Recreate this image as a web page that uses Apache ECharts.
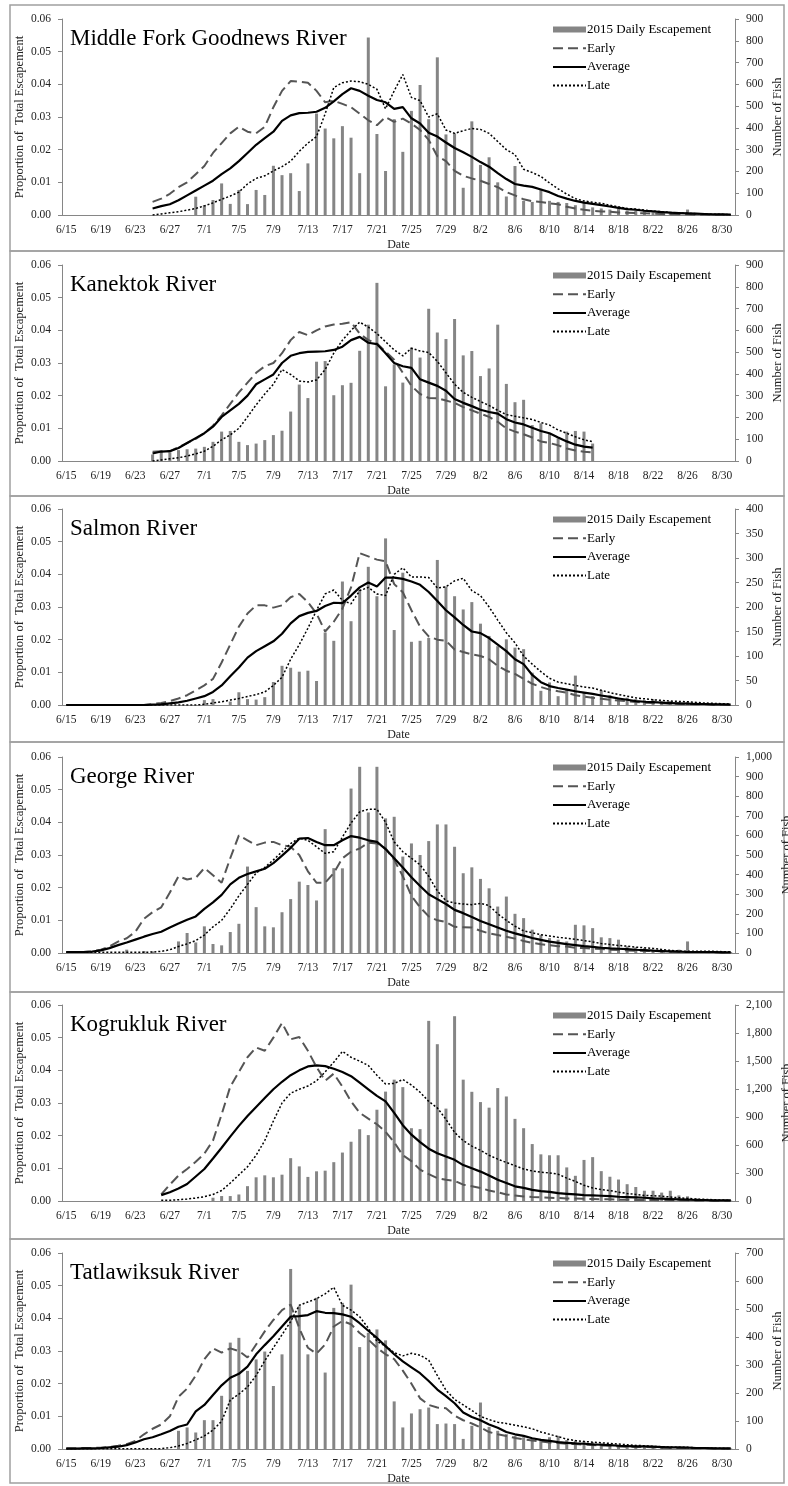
<!DOCTYPE html>
<html>
<head>
<meta charset="utf-8">
<script src="https://cdn.jsdelivr.net/npm/echarts@6/dist/echarts.min.js"></script>
<style>
  html, body { margin: 0; padding: 0; background: #fff; }
  #chart { width: 788px; height: 1486px; }
</style>
</head>
<body>
<div id="chart"></div>
<script>
// day categories 6/15 .. 8/31
const dates = [];
for (let d = 15; d <= 30; d++) dates.push("6/" + d);
for (let d = 1; d <= 31; d++) dates.push("7/" + d);
for (let d = 1; d <= 31; d++) dates.push("8/" + d);

// ---- Middle Fork Goodnews (lines from 6/25, bars from 6/15) ----
const goodnewsEarly = [
  0.0040,0.0050,0.0065,0.0085,0.0100,0.0125,0.0150,0.0190,0.0220,0.0250,
  0.0270,0.0255,0.0250,0.0270,0.0330,0.0380,0.0410,0.0408,0.0405,0.0380,
  0.0345,0.0350,0.0340,0.0330,0.0310,0.0290,0.0275,0.0300,0.0285,0.0295,
  0.0280,0.0260,0.0230,0.0180,0.0165,0.0135,0.0120,0.0112,0.0105,0.0095,
  0.0085,0.0070,0.0060,0.0048,0.0042,0.0040,0.0036,0.0033,0.0025,0.0020,
  0.0016,0.0013,0.0011,0.0010,0.0008,0.0007,0.0006,0.0005,0.0004,0.0003,
  0.0002,0.0002,0.0002,0.0001,0.0001,0.0001,0.0001,0.0001];
const goodnewsAvg = [
  0.0020,0.0027,0.0033,0.0045,0.0060,0.0075,0.0090,0.0105,0.0125,0.0143,
  0.0165,0.0190,0.0215,0.0235,0.0255,0.0288,0.0305,0.0312,0.0313,0.0316,
  0.0328,0.0348,0.0370,0.0388,0.0380,0.0365,0.0352,0.0345,0.0325,0.0330,
  0.0296,0.0280,0.0252,0.0240,0.0222,0.0205,0.0192,0.0178,0.0162,0.0148,
  0.0128,0.0110,0.0095,0.0090,0.0086,0.0078,0.0070,0.0058,0.0050,0.0043,
  0.0038,0.0034,0.0030,0.0026,0.0022,0.0018,0.0016,0.0013,0.0011,0.0009,
  0.0007,0.0006,0.0005,0.0004,0.0003,0.0002,0.0002,0.0001];
const goodnewsLate = [
  0.0000,0.0003,0.0007,0.0010,0.0015,0.0020,0.0028,0.0037,0.0048,0.0058,
  0.0070,0.0095,0.0112,0.0120,0.0135,0.0148,0.0165,0.0195,0.0220,0.0240,
  0.0310,0.0390,0.0405,0.0410,0.0408,0.0400,0.0385,0.0325,0.0380,0.0430,
  0.0360,0.0350,0.0300,0.0310,0.0260,0.0250,0.0258,0.0265,0.0262,0.0250,
  0.0225,0.0200,0.0185,0.0140,0.0130,0.0118,0.0098,0.0080,0.0064,0.0050,
  0.0043,0.0039,0.0036,0.0030,0.0025,0.0020,0.0018,0.0015,0.0012,0.0010,
  0.0008,0.0006,0.0005,0.0004,0.0003,0.0002,0.0002,0.0001];
const goodnewsFish = [
  0,0,0,0,0,0,0,0,0,0,
  0,0,0,0,0,84,45,69,145,51,
  115,50,115,92,226,183,192,110,237,466,
  397,352,408,355,192,815,372,202,440,290,
  478,597,440,724,370,375,125,430,230,265,
  150,85,225,65,60,120,65,60,55,45,
  55,35,30,25,30,20,20,18,12,8,
  10,8,25,8,5,3,2,0];

// ---- Kanektok (everything 6/25 .. 8/15) ----
const kanektokEarly = [
  0.0028,0.0030,0.0030,0.0042,0.0055,0.0068,0.0085,0.0108,0.0140,0.0175,
  0.0210,0.0240,0.0270,0.0290,0.0300,0.0330,0.0370,0.0395,0.0385,0.0400,
  0.0412,0.0418,0.0420,0.0425,0.0390,0.0370,0.0360,0.0335,0.0310,0.0270,
  0.0230,0.0205,0.0193,0.0192,0.0185,0.0178,0.0165,0.0155,0.0145,0.0135,
  0.0120,0.0100,0.0090,0.0082,0.0072,0.0060,0.0055,0.0048,0.0038,0.0032,
  0.0028,0.0026];
const kanektokAvg = [
  0.0023,0.0029,0.0030,0.0040,0.0055,0.0070,0.0085,0.0105,0.0135,0.0155,
  0.0175,0.0200,0.0235,0.0250,0.0265,0.0300,0.0322,0.0330,0.0334,0.0335,
  0.0336,0.0340,0.0350,0.0370,0.0380,0.0362,0.0358,0.0330,0.0300,0.0290,
  0.0285,0.0250,0.0240,0.0230,0.0215,0.0190,0.0178,0.0168,0.0157,0.0150,
  0.0145,0.0128,0.0118,0.0112,0.0102,0.0092,0.0085,0.0072,0.0060,0.0050,
  0.0044,0.0041];
const kanektokLate = [
  0.0000,0.0003,0.0007,0.0010,0.0015,0.0022,0.0030,0.0045,0.0065,0.0080,
  0.0100,0.0135,0.0172,0.0205,0.0235,0.0280,0.0265,0.0245,0.0242,0.0248,
  0.0280,0.0330,0.0370,0.0400,0.0425,0.0410,0.0390,0.0365,0.0340,0.0322,
  0.0345,0.0337,0.0332,0.0305,0.0270,0.0235,0.0210,0.0195,0.0182,0.0170,
  0.0155,0.0142,0.0137,0.0132,0.0127,0.0118,0.0110,0.0095,0.0085,0.0074,
  0.0065,0.0059];
const kanektokFish = [
  30,42,40,50,54,57,65,88,135,138,
  88,73,80,96,119,139,227,351,289,456,
  459,302,348,359,506,626,818,343,444,360,
  521,475,699,590,560,652,485,505,390,425,
  626,354,270,281,165,173,127,104,135,138,
  135,80];

// ---- Salmon (from 6/15) ----
const salmonEarly = [
  0,0,0,0,0,0,0,0,0,0,
  0.0003,0.0006,0.0012,0.0020,0.0030,0.0045,0.0060,0.0080,0.0130,0.0185,
  0.0240,0.0280,0.0305,0.0305,0.0298,0.0305,0.0330,0.0340,0.0315,0.0280,
  0.0225,0.0255,0.0295,0.0360,0.0465,0.0455,0.0445,0.0440,0.0370,0.0345,
  0.0290,0.0240,0.0210,0.0200,0.0197,0.0170,0.0162,0.0155,0.0150,0.0140,
  0.0120,0.0105,0.0095,0.0080,0.0065,0.0055,0.0047,0.0042,0.0038,0.0030,
  0.0026,0.0022,0.0019,0.0016,0.0014,0.0012,0.0009,0.0007,0.0006,0.0005,
  0.0004,0.0003,0.0003,0.0002,0.0002,0.0001,0.0001,0.0001];
const salmonAvg = [
  0,0,0,0,0,0,0,0,0,0,
  0.0001,0.0002,0.0005,0.0008,0.0013,0.0020,0.0027,0.0040,0.0060,0.0088,
  0.0115,0.0145,0.0165,0.0180,0.0195,0.0218,0.0250,0.0272,0.0282,0.0288,
  0.0303,0.0313,0.0312,0.0335,0.0360,0.0375,0.0363,0.0390,0.0390,0.0386,
  0.0378,0.0368,0.0346,0.0318,0.0290,0.0268,0.0245,0.0225,0.0220,0.0205,
  0.0185,0.0165,0.0140,0.0125,0.0092,0.0070,0.0058,0.0052,0.0047,0.0042,
  0.0038,0.0034,0.0029,0.0025,0.0020,0.0016,0.0012,0.0010,0.0009,0.0007,
  0.0006,0.0005,0.0004,0.0003,0.0003,0.0002,0.0002,0.0001];
const salmonLate = [
  0,0,0,0,0,0,0,0,0,0,
  0,0,0,0,0,0,0.0002,0.0006,0.0010,0.0015,
  0.0020,0.0026,0.0032,0.0040,0.0060,0.0085,0.0140,0.0185,0.0235,0.0290,
  0.0340,0.0352,0.0320,0.0310,0.0350,0.0360,0.0340,0.0335,0.0400,0.0420,
  0.0392,0.0392,0.0390,0.0358,0.0362,0.0380,0.0388,0.0350,0.0335,0.0300,
  0.0260,0.0221,0.0190,0.0150,0.0125,0.0102,0.0082,0.0070,0.0065,0.0060,
  0.0055,0.0052,0.0045,0.0038,0.0032,0.0027,0.0022,0.0019,0.0016,0.0014,
  0.0012,0.0011,0.0010,0.0008,0.0006,0.0005,0.0004,0.0003];
const salmonFish = [
  0,0,0,0,0,0,0,0,0,0,
  0,0,0,0,0,0,10,12,0,7,
  26,12,11,16,47,80,76,68,70,49,
  148,131,252,171,236,282,222,340,153,270,
  129,131,137,296,242,222,195,210,166,141,
  120,134,117,114,66,29,46,18,32,60,
  25,18,30,20,15,15,12,10,12,8,
  8,6,6,5,4,3,2,0];

// ---- George (from 6/15) ----
const georgeEarly = [
  0.0003,0.0003,0.0003,0.0005,0.0010,0.0020,0.0035,0.0045,0.0065,0.0105,
  0.0125,0.0140,0.0185,0.0235,0.0225,0.0230,0.0260,0.0238,0.0215,0.0290,
  0.0360,0.0345,0.0330,0.0338,0.0340,0.0330,0.0325,0.0300,0.0250,0.0215,
  0.0215,0.0245,0.0290,0.0310,0.0320,0.0338,0.0335,0.0320,0.0285,0.0235,
  0.0175,0.0140,0.0112,0.0100,0.0095,0.0080,0.0079,0.0078,0.0068,0.0060,
  0.0055,0.0050,0.0044,0.0037,0.0031,0.0027,0.0024,0.0021,0.0020,0.0016,
  0.0015,0.0013,0.0012,0.0010,0.0009,0.0008,0.0007,0.0006,0.0006,0.0005,
  0.0004,0.0004,0.0003,0.0003,0.0003,0.0002,0.0002,0.0002];
const georgeAvg = [
  0.0003,0.0003,0.0003,0.0004,0.0008,0.0015,0.0024,0.0032,0.0041,0.0050,
  0.0058,0.0065,0.0078,0.0090,0.0102,0.0112,0.0135,0.0155,0.0178,0.0210,
  0.0230,0.0242,0.0250,0.0258,0.0275,0.0298,0.0322,0.0350,0.0352,0.0340,
  0.0330,0.0330,0.0345,0.0358,0.0353,0.0345,0.0340,0.0318,0.0290,0.0262,
  0.0232,0.0205,0.0180,0.0165,0.0150,0.0132,0.0122,0.0110,0.0098,0.0088,
  0.0078,0.0068,0.0060,0.0053,0.0046,0.0040,0.0035,0.0031,0.0027,0.0024,
  0.0021,0.0019,0.0016,0.0014,0.0013,0.0012,0.0010,0.0009,0.0007,0.0006,
  0.0005,0.0004,0.0003,0.0003,0.0003,0.0003,0.0002,0.0002];
const georgeLate = [
  0.0002,0.0002,0.0002,0.0002,0.0002,0.0002,0.0002,0.0002,0.0002,0.0002,
  0.0003,0.0005,0.0010,0.0020,0.0028,0.0038,0.0055,0.0080,0.0100,0.0135,
  0.0175,0.0210,0.0245,0.0262,0.0285,0.0310,0.0335,0.0352,0.0345,0.0325,
  0.0305,0.0310,0.0355,0.0398,0.0432,0.0440,0.0440,0.0400,0.0340,0.0310,
  0.0290,0.0270,0.0235,0.0190,0.0160,0.0153,0.0150,0.0148,0.0152,0.0145,
  0.0120,0.0100,0.0082,0.0068,0.0062,0.0056,0.0052,0.0048,0.0045,0.0042,
  0.0038,0.0034,0.0029,0.0026,0.0023,0.0021,0.0018,0.0016,0.0014,0.0011,
  0.0008,0.0006,0.0005,0.0005,0.0005,0.0005,0.0004,0.0004];
const georgeFish = [
  0,0,0,0,0,0,0,17,0,10,
  8,0,0,59,102,54,136,46,39,107,
  149,441,234,136,131,208,275,364,347,268,
  632,433,432,839,950,717,950,687,695,492,
  559,500,571,656,656,542,407,437,378,330,
  237,288,200,178,119,93,76,68,59,144,
  141,127,80,76,68,34,29,25,17,12,
  12,17,59,8,5,8,8,5];

// ---- Kogrukluk (lines from 6/26, bars from 6/15) ----
const kogruklukEarly = [
  0.0020,0.0050,0.0078,0.0098,0.0120,0.0145,0.0185,0.0265,0.0350,
  0.0395,0.0440,0.0470,0.0460,0.0500,0.0545,0.0495,0.0502,0.0460,0.0410,
  0.0368,0.0390,0.0350,0.0305,0.0270,0.0252,0.0235,0.0212,0.0180,0.0140,
  0.0122,0.0096,0.0082,0.0070,0.0065,0.0062,0.0050,0.0045,0.0040,0.0032,
  0.0027,0.0020,0.0017,0.0014,0.0012,0.0011,0.0010,0.0009,0.0008,0.0008,
  0.0007,0.0006,0.0005,0.0005,0.0004,0.0004,0.0003,0.0003,0.0003,0.0002,
  0.0002,0.0002,0.0002,0.0001,0.0001,0.0001,0.0001,0.0001];
const kogruklukAvg = [
  0.0018,0.0027,0.0038,0.0052,0.0075,0.0098,0.0130,0.0163,0.0197,
  0.0230,0.0260,0.0288,0.0315,0.0342,0.0365,0.0385,0.0400,0.0412,0.0415,
  0.0413,0.0405,0.0395,0.0382,0.0362,0.0342,0.0322,0.0305,0.0270,0.0232,
  0.0203,0.0180,0.0160,0.0146,0.0136,0.0126,0.0110,0.0100,0.0090,0.0078,
  0.0065,0.0055,0.0045,0.0040,0.0034,0.0030,0.0028,0.0024,0.0022,0.0020,
  0.0018,0.0017,0.0016,0.0015,0.0013,0.0012,0.0011,0.0010,0.0008,0.0007,
  0.0006,0.0005,0.0004,0.0003,0.0003,0.0002,0.0002,0.0002];
const kogruklukLate = [
  0.0002,0.0002,0.0004,0.0006,0.0009,0.0013,0.0020,0.0032,0.0055,
  0.0080,0.0105,0.0140,0.0185,0.0245,0.0300,0.0330,0.0342,0.0352,0.0368,
  0.0395,0.0425,0.0458,0.0440,0.0428,0.0415,0.0385,0.0358,0.0360,0.0372,
  0.0355,0.0333,0.0305,0.0285,0.0250,0.0210,0.0185,0.0168,0.0155,0.0140,
  0.0128,0.0118,0.0108,0.0098,0.0092,0.0088,0.0086,0.0082,0.0070,0.0060,
  0.0048,0.0040,0.0035,0.0032,0.0027,0.0023,0.0020,0.0017,0.0016,0.0015,
  0.0012,0.0010,0.0008,0.0006,0.0005,0.0004,0.0003,0.0002];
const kogruklukFish = [
  0,0,0,0,0,0,0,0,0,0,
  0,0,0,0,0,0,0,35,53,53,
  70,159,254,275,254,282,459,371,258,318,
  325,416,519,635,769,706,978,1172,1300,1220,
  780,770,1930,1680,990,1980,1300,1170,1060,1000,
  1210,1120,880,780,610,500,490,490,360,270,
  440,470,320,260,230,180,150,110,110,90,
  110,60,50,30,20,15,10,5];

// ---- Tatlawiksuk (from 6/15) ----
const tatlaEarly = [
  0.0002,0.0002,0.0003,0.0003,0.0004,0.0006,0.0010,0.0015,0.0025,0.0045,
  0.0062,0.0075,0.0100,0.0160,0.0185,0.0225,0.0275,0.0308,0.0295,0.0308,
  0.0300,0.0280,0.0320,0.0360,0.0395,0.0425,0.0442,0.0370,0.0310,0.0292,
  0.0320,0.0375,0.0392,0.0382,0.0355,0.0335,0.0310,0.0290,0.0275,0.0240,
  0.0200,0.0155,0.0135,0.0127,0.0125,0.0102,0.0088,0.0078,0.0066,0.0052,
  0.0045,0.0040,0.0034,0.0030,0.0026,0.0023,0.0020,0.0018,0.0016,0.0015,
  0.0013,0.0012,0.0011,0.0010,0.0008,0.0007,0.0006,0.0006,0.0005,0.0004,
  0.0004,0.0003,0.0003,0.0002,0.0002,0.0002,0.0001,0.0001];
const tatlaAvg = [
  0.0001,0.0001,0.0002,0.0002,0.0003,0.0005,0.0007,0.0012,0.0020,0.0030,
  0.0036,0.0045,0.0055,0.0068,0.0075,0.0115,0.0135,0.0165,0.0195,0.0218,
  0.0230,0.0252,0.0290,0.0318,0.0345,0.0375,0.0405,0.0407,0.0410,0.0422,
  0.0417,0.0416,0.0412,0.0405,0.0385,0.0362,0.0340,0.0315,0.0290,0.0268,
  0.0250,0.0232,0.0208,0.0182,0.0162,0.0140,0.0112,0.0098,0.0088,0.0075,
  0.0065,0.0052,0.0045,0.0040,0.0033,0.0028,0.0025,0.0021,0.0019,0.0017,
  0.0016,0.0014,0.0013,0.0012,0.0010,0.0009,0.0008,0.0008,0.0007,0.0006,
  0.0005,0.0005,0.0004,0.0003,0.0003,0.0002,0.0002,0.0002];
const tatlaLate = [
  0.0001,0.0001,0.0001,0.0001,0.0001,0.0001,0.0001,0.0001,0.0001,0.0001,
  0.0001,0.0001,0.0004,0.0009,0.0017,0.0028,0.0040,0.0058,0.0085,0.0150,
  0.0168,0.0190,0.0225,0.0270,0.0310,0.0350,0.0390,0.0440,0.0450,0.0460,
  0.0475,0.0495,0.0440,0.0425,0.0405,0.0370,0.0330,0.0315,0.0295,0.0285,
  0.0293,0.0287,0.0272,0.0225,0.0180,0.0152,0.0135,0.0118,0.0100,0.0090,
  0.0082,0.0078,0.0073,0.0068,0.0062,0.0052,0.0045,0.0038,0.0030,0.0026,
  0.0023,0.0021,0.0019,0.0017,0.0015,0.0013,0.0011,0.0010,0.0008,0.0007,
  0.0006,0.0005,0.0005,0.0004,0.0003,0.0002,0.0002,0.0001];
const tatlaFish = [
  0,0,0,0,0,0,0,0,0,0,
  0,0,0,65,77,59,103,103,190,380,
  397,279,320,348,225,338,643,510,338,540,
  273,504,522,587,364,415,427,388,170,77,
  127,142,148,89,91,89,36,83,166,79,
  65,53,47,42,36,36,42,47,32,30,
  27,24,20,18,15,12,12,10,10,9,
  7,6,5,5,4,3,3,2];

const panels = [
  { title: "Middle Fork Goodnews River", lineStart: 10, barStart: 0, early: goodnewsEarly, avg: goodnewsAvg, late: goodnewsLate, fish: goodnewsFish, fishMax: 900, fishStep: 100 },
  { title: "Kanektok River", lineStart: 10, barStart: 10, early: kanektokEarly, avg: kanektokAvg, late: kanektokLate, fish: kanektokFish, fishMax: 900, fishStep: 100 },
  { title: "Salmon River", lineStart: 0, barStart: 0, early: salmonEarly, avg: salmonAvg, late: salmonLate, fish: salmonFish, fishMax: 400, fishStep: 50 },
  { title: "George River", lineStart: 0, barStart: 0, early: georgeEarly, avg: georgeAvg, late: georgeLate, fish: georgeFish, fishMax: 1000, fishStep: 100 },
  { title: "Kogrukluk River", lineStart: 11, barStart: 0, early: kogruklukEarly, avg: kogruklukAvg, late: kogruklukLate, fish: kogruklukFish, fishMax: 2100, fishStep: 300 },
  { title: "Tatlawiksuk River", lineStart: 0, barStart: 0, early: tatlaEarly, avg: tatlaAvg, late: tatlaLate, fish: tatlaFish, fishMax: 700, fishStep: 100 }
];

const gridTops = [19, 265, 509, 757, 1005, 1253];
const frameTops = [5, 251, 496, 742, 992, 1239, 1483];

const font = "'Liberation Serif', 'Times New Roman', serif";
const axisGray = "#868686";
const textColor = "#222";
const earlyColor = "#555555";

function pad(start, vals) {
  return new Array(start).fill(null).concat(vals);
}
function commas(v) {
  return String(v).replace(/\B(?=(\d{3})+(?!\d))/g, ",");
}

const grid = [], xAxis = [], yAxis = [], series = [], legend = [], title = [], graphic = [];
const hideDot = { opacity: 0 };

panels.forEach((p, k) => {
  const top = gridTops[k];
  // wider tick labels (1,000 and up) push the right-hand title further out
  const rightGap = p.fishMax >= 1000 ? 45 : 36;
  grid.push({ left: 62, width: 673, top: top, height: 196, outerBoundsMode: "none", containLabel: false });
  title.push({
    text: p.title, left: 65, top: top + 3,
    textStyle: { fontFamily: font, fontSize: 23, fontWeight: "normal", color: "#000" }
  });
  legend.push({
    orient: "vertical", left: 547, top: top - 1,
    itemWidth: 33, itemHeight: 6, itemGap: 5.7, selectedMode: false,
    textStyle: { fontFamily: font, fontSize: 13, color: "#000", padding: [0, 0, 0, -4] },
    data: [
      { name: "2015 Daily Escapement", icon: "rect" },
      { name: "Early", itemStyle: hideDot },
      { name: "Average", itemStyle: hideDot },
      { name: "Late", itemStyle: hideDot }
    ]
  });
  xAxis.push({
    type: "category", gridIndex: k, data: dates, boundaryGap: true,
    name: "Date", nameLocation: "middle", nameGap: 24, nameMoveOverlap: false,
    nameTextStyle: { fontFamily: font, fontSize: 12, color: textColor },
    axisLine: { lineStyle: { color: axisGray } },
    axisTick: { interval: 3, alignWithLabel: true, length: 4, lineStyle: { color: axisGray } },
    axisLabel: { interval: 3, fontFamily: font, fontSize: 11.5, color: textColor, margin: 9 }
  });
  yAxis.push({
    type: "value", gridIndex: k, position: "left", min: 0, max: 0.06, interval: 0.01,
    name: "Proportion of  Total Escapement", nameLocation: "middle", nameGap: 36, nameMoveOverlap: false,
    nameTextStyle: { fontFamily: font, fontSize: 12.5, color: textColor },
    axisLine: { show: true, lineStyle: { color: axisGray } },
    axisTick: { show: true, length: 4, lineStyle: { color: axisGray } },
    splitLine: { show: false },
    axisLabel: { fontFamily: font, fontSize: 11.5, color: textColor, margin: 11, formatter: (v) => v.toFixed(2) }
  });
  yAxis.push({
    type: "value", gridIndex: k, position: "right", min: 0, max: p.fishMax, interval: p.fishStep,
    name: "Number of Fish", nameLocation: "middle", nameGap: rightGap, nameMoveOverlap: false,
    nameTextStyle: { fontFamily: font, fontSize: 12.5, color: textColor },
    axisLine: { show: true, lineStyle: { color: axisGray } },
    axisTick: { show: true, length: 4, lineStyle: { color: axisGray } },
    splitLine: { show: false },
    axisLabel: { fontFamily: font, fontSize: 11.5, color: textColor, margin: 11, formatter: commas }
  });
  series.push({
    type: "bar", name: "2015 Daily Escapement", xAxisIndex: k, yAxisIndex: 2 * k + 1,
    data: pad(p.barStart, p.fish), barWidth: 3, itemStyle: { color: "#858585" }, silent: true
  });
  series.push({
    type: "line", name: "Early", xAxisIndex: k, yAxisIndex: 2 * k,
    data: pad(p.lineStart, p.early), symbol: "none", silent: true,
    itemStyle: { color: earlyColor },
    lineStyle: { color: earlyColor, width: 2, type: [10, 5] }
  });
  series.push({
    type: "line", name: "Average", xAxisIndex: k, yAxisIndex: 2 * k,
    data: pad(p.lineStart, p.avg), symbol: "none", silent: true,
    itemStyle: { color: "#000" },
    lineStyle: { color: "#000", width: 2.2 }
  });
  series.push({
    type: "line", name: "Late", xAxisIndex: k, yAxisIndex: 2 * k,
    data: pad(p.lineStart, p.late), symbol: "none", silent: true,
    itemStyle: { color: "#000" },
    lineStyle: { color: "#000", width: 1.5, type: [2, 2] }
  });
  graphic.push({
    type: "rect", silent: true, z: -10,
    shape: { x: 10, y: frameTops[k], width: 774, height: frameTops[k + 1] - frameTops[k] },
    style: { fill: "none", stroke: "#a0a0a0", lineWidth: 1.5 }
  });
});

const chart = echarts.init(document.getElementById("chart"));
chart.setOption({
  animation: false,
  backgroundColor: "#fff",
  title: title,
  legend: legend,
  grid: grid,
  xAxis: xAxis,
  yAxis: yAxis,
  series: series,
  graphic: graphic
});
</script>
</body>
</html>
